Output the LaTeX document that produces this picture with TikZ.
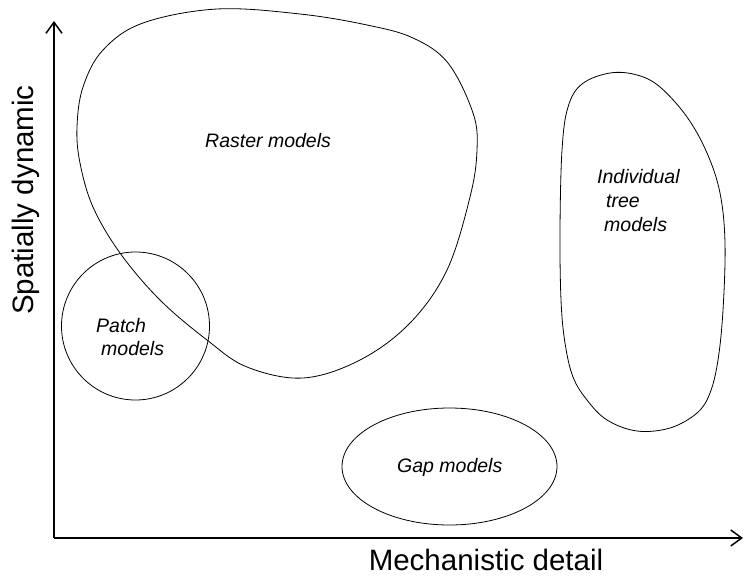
\documentclass[tikz,border=0pt]{standalone}
\usepackage{fontspec}
\setmainfont{Liberation Sans}
\usetikzlibrary{arrows.meta}
\begin{document}
\begin{tikzpicture}[x=1pt,y=-1pt,
  axis/.style={line width=1.7pt,-{Straight Barb[length=11pt,width=16pt,line width=1.5pt]}},
  blob/.style={line width=0.8pt},
  lab/.style={font=\fontsize{19.5}{23}\selectfont\itshape,inner sep=0pt,anchor=base west},
  axlab/.style={inner sep=0pt,font=\fontsize{29.5}{34}\selectfont}]
\useasboundingbox (0,0) rectangle (743,578);
% axes
\coordinate (O) at (54,538);
\coordinate (ytop) at (54,21);
\coordinate (xend) at (743,538);
\draw[axis] (O) -- (ytop);
\draw[axis] (O) -- (xend);
\node[axlab,anchor=base] (xl) at (486,570) {Mechanistic detail};
\node[axlab,rotate=90,anchor=base] (yl) at (33,200) {Spatially dynamic};
% raster blob
\draw[blob] plot[smooth cycle,tension=0.6] coordinates {
 (77,127) (83,87) (103,50) (143,23) (217,9) (300,14) (367,25) (413,38) (448,63)
 (473,113) (477,150) (470,197) (447,270) (410,323) (360,360) (303,378) (247,367)
 (207,340) (160,300) (120,253) (93,207) (80,163)};
% patch circle
\draw[blob] (135.5,326) circle[radius=74];
% gap ellipse
\draw[blob] (449.5,466.5) ellipse[x radius=107.5,y radius=58.5];
% tree blob
\draw[blob] plot[smooth cycle,tension=0.6] coordinates {
 (610,73) (637,75) (660,87) (687,117) (707,153) (720,193) (725,243) (723,310)
 (718,360) (710,393) (697,413) (670,428) (637,431) (607,420) (587,400) (573,377)
 (565,343) (561,300) (560,230) (562,150) (568,107) (582,84)};
% labels
\node[lab] (raster) at (205,147) {Raster models};
\node[lab] (patch1) at (96,332) {Patch};
\node[lab] (patch2) at (101,355) {models};
\node[lab] (gap) at (397,472) {Gap models};
\node[lab] (tree1) at (597,183) {Individual};
\node[lab] (tree2) at (606,207) {tree};
\node[lab] (tree3) at (604,231) {models};
\end{tikzpicture}
\end{document}
